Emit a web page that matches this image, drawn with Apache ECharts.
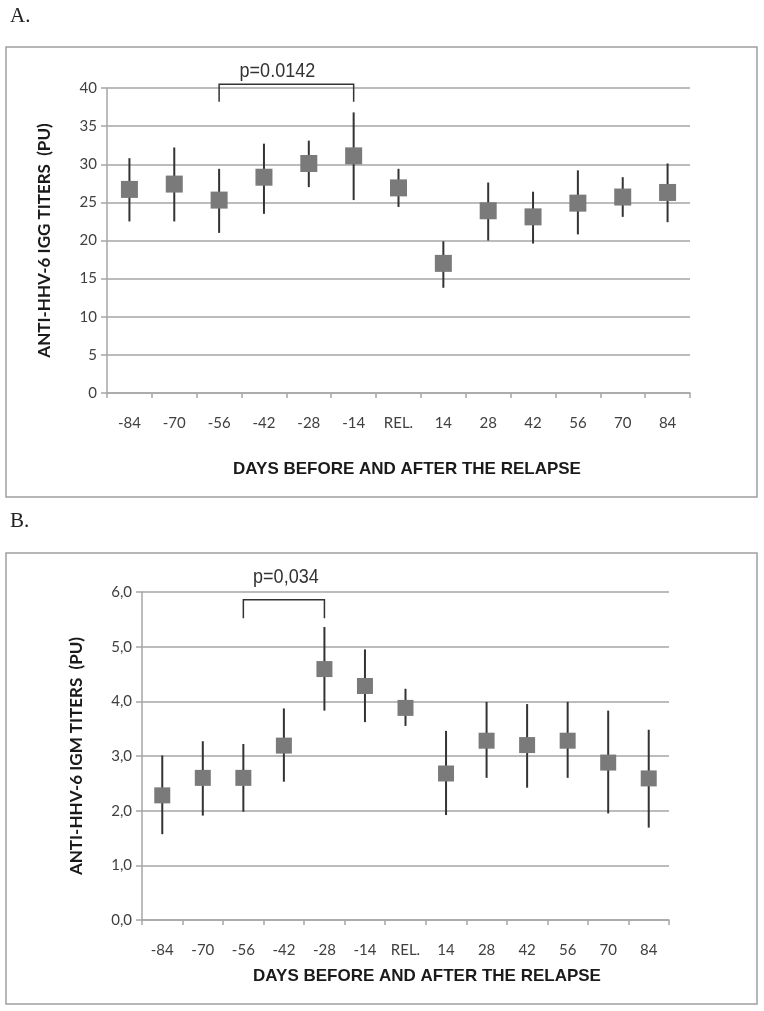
<!DOCTYPE html>
<html>
<head>
<meta charset="utf-8">
<script src="https://cdn.jsdelivr.net/npm/echarts@6/dist/echarts.min.js"></script>
<style>
html,body{margin:0;padding:0;background:#fff;}
#chart{width:764px;height:1011px;}
</style>
</head>
<body>
<div id="chart"></div>
<script>
// ---- data ----
const categories = ['-84','-70','-56','-42','-28','-14','REL.','14','28','42','56','70','84'];

const iggMean = [26.7, 27.4, 25.3, 28.3, 30.1, 31.1, 26.9, 17.0, 23.9, 23.1, 24.9, 25.7, 26.3];
const iggHigh = [30.8, 32.2, 29.4, 32.7, 33.1, 36.8, 29.4, 19.9, 27.6, 26.4, 29.2, 28.3, 30.1];
const iggLow  = [22.5, 22.5, 21.0, 23.5, 27.0, 25.3, 24.4, 13.8, 20.0, 19.6, 20.8, 23.1, 22.4];

const igmMean = [2.28, 2.60, 2.60, 3.19, 4.59, 4.28, 3.88, 2.68, 3.28, 3.20, 3.28, 2.88, 2.59];
const igmHigh = [3.01, 3.27, 3.22, 3.87, 5.36, 4.95, 4.23, 3.46, 3.99, 3.95, 3.99, 3.83, 3.48];
const igmLow  = [1.57, 1.91, 1.98, 2.53, 3.83, 3.62, 3.55, 1.92, 2.60, 2.42, 2.60, 1.95, 1.69];

// significance brackets: [fromIndex, toIndex, topValue, endValue]
const iggBracket = [2, 5, 40.5, 38.2];
const iggBracketLabel = 'p=0.0142';
const igmBracket = [2, 4, 5.86, 5.52];
const igmBracketLabel = 'p=0,034';

const iggTicks = {min: 0, max: 40, interval: 5};
const igmTicks = {min: 0, max: 6, interval: 1};

const xTitle = 'DAYS BEFORE AND AFTER THE RELAPSE';
const iggYTitle = 'ANTI-HHV-6 IGG TITERS  (PU)';
const igmYTitle = 'ANTI-HHV-6 IGM TITERS  (PU)';

// ---- styles ----
const labelFont = 'Lato, "Open Sans", sans-serif';
const titleFont = '"Liberation Sans Narrow", "Arial Narrow", "Liberation Sans", sans-serif';
const gridColor = '#a6a6a6';
const textColor = '#404040';

function errRender(params, api) {
  const x = api.value(0);
  const p1 = api.coord([x, api.value(1)]);
  const p2 = api.coord([x, api.value(2)]);
  return {
    type: 'line',
    shape: {x1: p1[0], y1: p1[1], x2: p2[0], y2: p2[1]},
    style: {stroke: '#333333', lineWidth: 2}
  };
}

function makeBracketRender(label, dx, dy) {
  return function (params, api) {
    const a = api.coord([api.value(0), api.value(2)]);
    const b = api.coord([api.value(1), api.value(2)]);
    const ea = api.coord([api.value(0), api.value(3)]);
    const eb = api.coord([api.value(1), api.value(3)]);
    return {
      type: 'group',
      children: [
        {
          type: 'polyline',
          shape: {points: [[ea[0], ea[1]], [a[0], a[1]], [b[0], b[1]], [eb[0], eb[1]]]},
          style: {stroke: '#333333', lineWidth: 1.5, fill: null}
        },
        {
          type: 'text',
          x: (a[0] + b[0]) / 2 + dx,
          y: a[1] - dy,
          scaleX: 0.9,
          style: {
            text: label, fill: '#333', font: '20px "Liberation Sans", sans-serif',
            align: 'center', verticalAlign: 'bottom'
          }
        }
      ]
    };
  };
}

function xAxisCfg(gridIndex, margin) {
  return {
    type: 'category', gridIndex: gridIndex, data: categories, boundaryGap: true,
    axisLine: {lineStyle: {color: gridColor, width: 1.5}},
    axisTick: {show: true, length: 5, interval: 0, lineStyle: {color: gridColor, width: 1.5}},
    axisLabel: {color: textColor, fontFamily: labelFont, fontSize: 15, margin: margin, interval: 0},
    splitLine: {show: false}
  };
}

function yAxisCfg(gridIndex, ticks, name, nameGap, fmt) {
  return {
    type: 'value', gridIndex: gridIndex, min: ticks.min, max: ticks.max, interval: ticks.interval,
    name: name, nameLocation: 'middle', nameGap: nameGap, nameRotate: 90,
    nameTextStyle: {color: '#1a1a1a', fontFamily: labelFont, fontWeight: 'bold', fontSize: 17},
    axisLine: {show: true, lineStyle: {color: gridColor, width: 1.5}},
    axisTick: {show: true, inside: false, length: 6, lineStyle: {color: gridColor, width: 1.5}},
    axisLabel: {color: textColor, fontFamily: labelFont, fontSize: 15, margin: 10, formatter: fmt},
    splitLine: {show: true, lineStyle: {color: gridColor, width: 1.5}}
  };
}

const chart = echarts.init(document.getElementById('chart'), null, {renderer: 'canvas'});

const option = {
  backgroundColor: '#ffffff',
  animation: false,
  grid: [
    {left: 107, right: 74, top: 88, bottom: 618},
    {left: 142, right: 95, top: 592, bottom: 91}
  ],
  xAxis: [xAxisCfg(0, 23), xAxisCfg(1, 23)],
  yAxis: [
    yAxisCfg(0, iggTicks, iggYTitle, 54, v => String(v)),
    yAxisCfg(1, igmTicks, igmYTitle, 57, v => v.toFixed(1).replace('.', ','))
  ],
  graphic: [
    {type: 'rect', shape: {x: 6, y: 47, width: 751, height: 450},
     style: {fill: null, stroke: '#a0a0a0', lineWidth: 1.5}, z: -1},
    {type: 'rect', shape: {x: 6, y: 553, width: 751, height: 451},
     style: {fill: null, stroke: '#a0a0a0', lineWidth: 1.5}, z: -1},
    {type: 'text', x: 10, y: 6, style: {text: 'A.', fill: '#222', font: '21px "Liberation Serif", "DejaVu Serif", serif'}},
    {type: 'text', x: 10, y: 511, style: {text: 'B.', fill: '#222', font: '21px "Liberation Serif", "DejaVu Serif", serif'}},
    {type: 'text', x: 407, y: 469, style: {text: xTitle, fill: '#1a1a1a', font: 'bold 17px ' + titleFont, align: 'center', verticalAlign: 'middle'}},
    {type: 'text', x: 427, y: 976, style: {text: xTitle, fill: '#1a1a1a', font: 'bold 17px ' + titleFont, align: 'center', verticalAlign: 'middle'}}
  ],
  series: [
    {
      type: 'custom', xAxisIndex: 0, yAxisIndex: 0, renderItem: errRender, clip: false, z: 2,
      data: categories.map((c, i) => [i, iggHigh[i], iggLow[i]])
    },
    {
      type: 'scatter', xAxisIndex: 0, yAxisIndex: 0, symbol: 'rect', symbolSize: 17, z: 3,
      itemStyle: {color: '#7a7a7a', opacity: 1},
      data: categories.map((c, i) => [i, iggMean[i]])
    },
    {
      type: 'custom', xAxisIndex: 0, yAxisIndex: 0, renderItem: makeBracketRender(iggBracketLabel, -9, 3), clip: false, z: 4,
      data: [iggBracket]
    },
    {
      type: 'custom', xAxisIndex: 1, yAxisIndex: 1, renderItem: errRender, clip: false, z: 2,
      data: categories.map((c, i) => [i, igmHigh[i], igmLow[i]])
    },
    {
      type: 'scatter', xAxisIndex: 1, yAxisIndex: 1, symbol: 'rect', symbolSize: 16, z: 3,
      itemStyle: {color: '#7a7a7a', opacity: 1},
      data: categories.map((c, i) => [i, igmMean[i]])
    },
    {
      type: 'custom', xAxisIndex: 1, yAxisIndex: 1, renderItem: makeBracketRender(igmBracketLabel, 2, 12), clip: false, z: 4,
      data: [igmBracket]
    }
  ]
};
chart.setOption(option);
</script>
</body>
</html>
